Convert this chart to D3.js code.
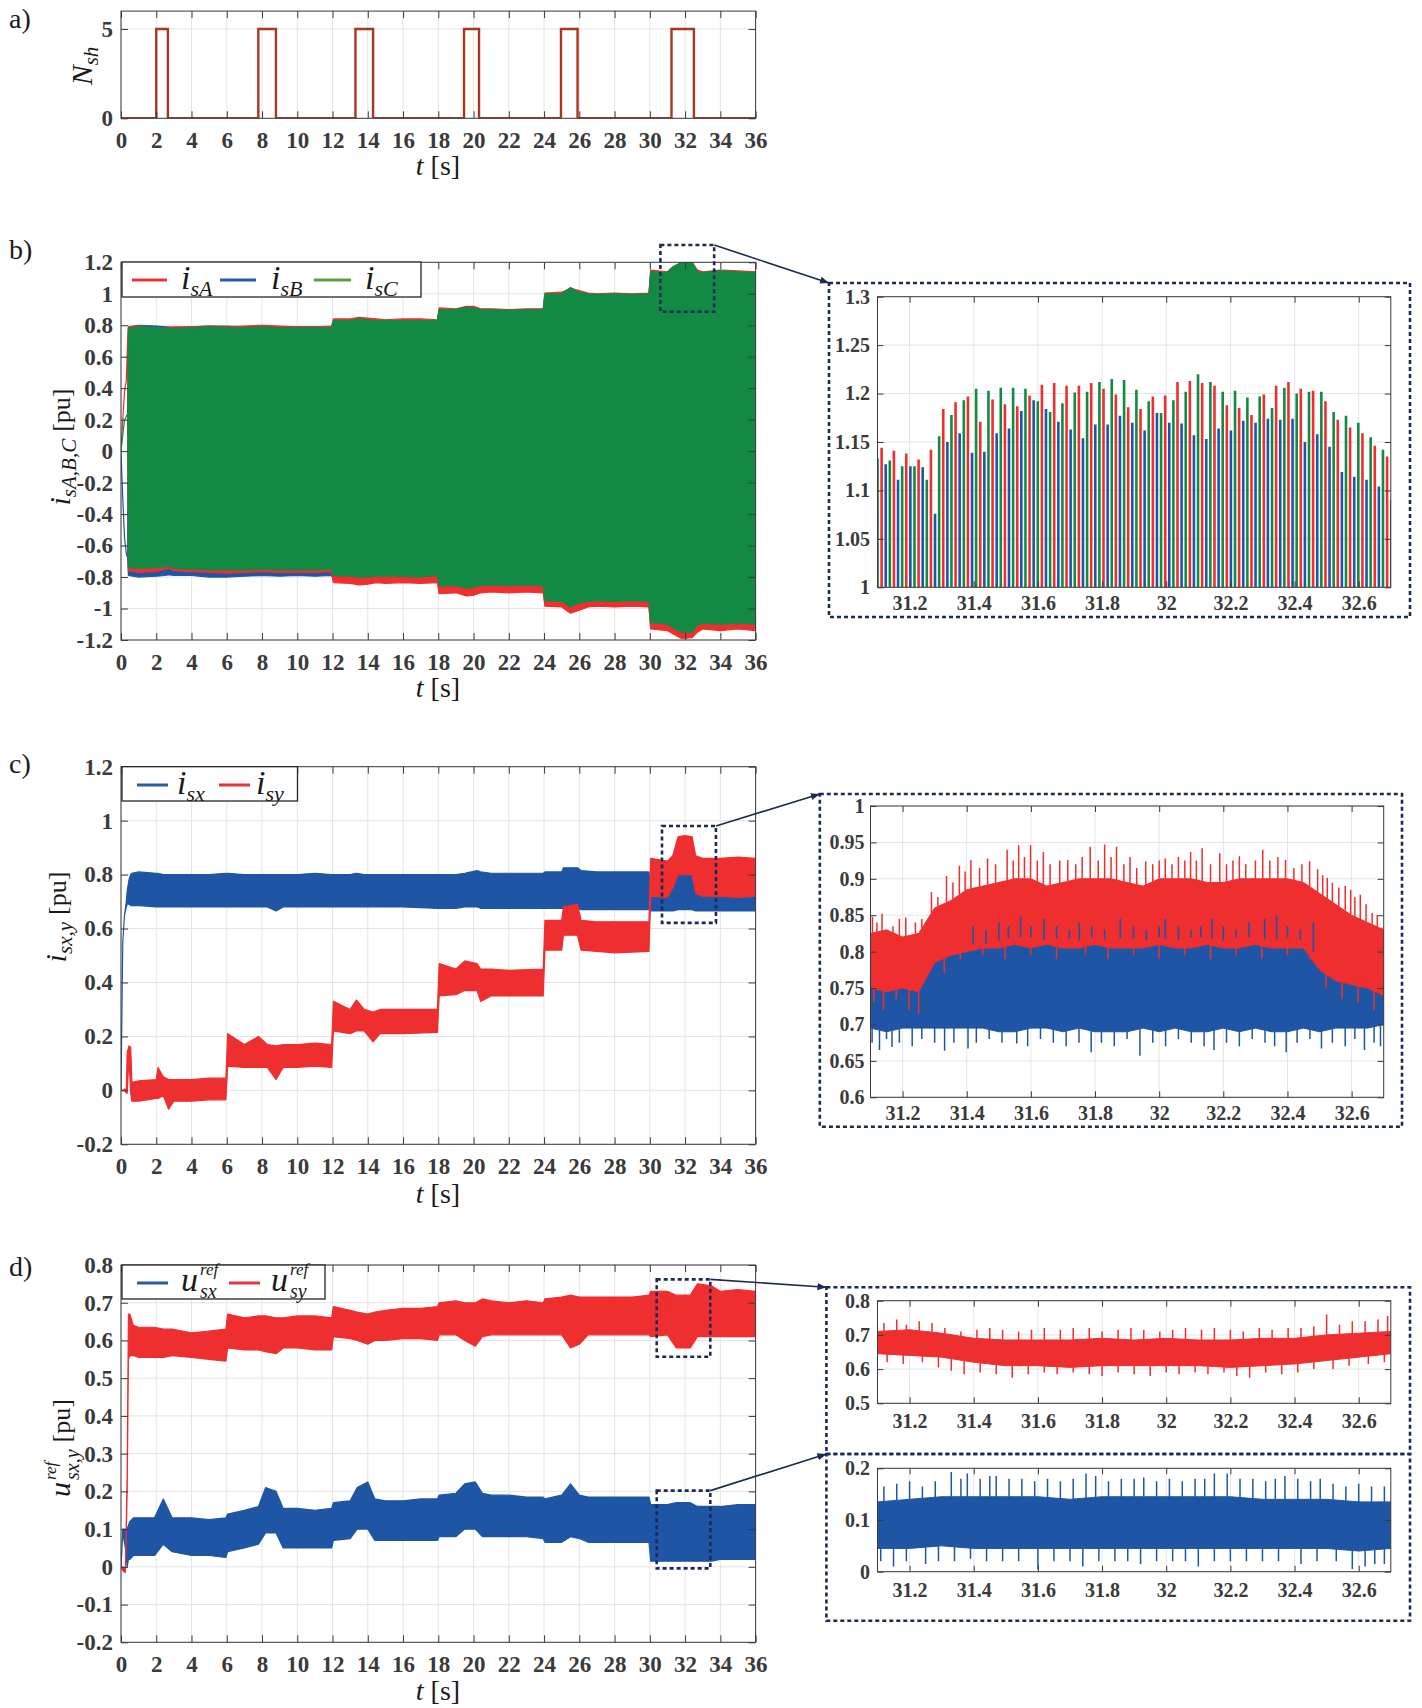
<!DOCTYPE html>
<html><head><meta charset="utf-8">
<script src="https://cdn.jsdelivr.net/npm/d3@7/dist/d3.min.js"></script>
<style>
html,body{margin:0;padding:0;background:#fff;}
svg{display:block;font-family:"Liberation Serif","Times New Roman",serif;}
</style></head><body>
<svg id="chart" width="1422" height="1708"></svg>
<script>
// ===================== DATA =====================
const timeTicks = [0,2,4,6,8,10,12,14,16,18,20,22,24,26,28,30,32,34,36];
const zoomTicks = [31.2,31.4,31.6,31.8,32,32.2,32.4,32.6];

// a) number of shaded modules
const nshPulseStart = [2.0, 7.79, 13.3, 19.46, 24.96, 31.23];
const nshPulseEnd   = [2.66, 8.79, 14.3, 20.31, 25.9, 32.5];
const nshHigh = 5;
const nshTicks = [0,5];

// b) phase currents (envelopes)
const isT = [0,0.1,0.2,0.3,0.38,0.42,1,2,2.5,2.7,3,4,5,6,7,8,9,10,11,11.95,12.05,13,13.5,14,14.5,15,16,17,17.95,18.05,19,19.6,20,20.4,21,22,23,23.95,24.05,25,25.5,26,26.5,27,28,29,29.95,30.05,31,31.3,31.8,32.4,32.7,33,34,35,36];
const isA_hi = [0,0.2,0.38,0.45,0.72,0.79, 0.795,0.78,0.78,0.785,0.79,0.79,0.795,0.79,0.795,0.80,0.795,0.79,0.79,0.795, 0.84,0.84,0.85,0.845,0.84,0.835,0.84,0.84,0.835, 0.91,0.905,0.92,0.92,0.905,0.905,0.90,0.905,0.905, 1.005,1.01,1.035,1.02,1.005,1.0,1.005,1.0,1.005, 1.15,1.14,1.17,1.2,1.2,1.15,1.14,1.15,1.145,1.14];
const isA_lo = [0,0.2,0.38,0.45,0.72,-0.76, -0.77,-0.765,-0.75,-0.745,-0.76,-0.765,-0.77,-0.775,-0.77,-0.765,-0.77,-0.77,-0.77,-0.765, -0.835,-0.84,-0.85,-0.845,-0.835,-0.84,-0.835,-0.84,-0.835, -0.905,-0.90,-0.92,-0.915,-0.90,-0.895,-0.90,-0.895,-0.90, -0.985,-0.99,-1.03,-1.01,-0.99,-0.985,-0.99,-0.985,-0.99, -1.13,-1.14,-1.16,-1.19,-1.185,-1.15,-1.13,-1.14,-1.13,-1.14];
const isB_hi = [0,-0.3,-0.55,-0.65,-0.68,0.79, 0.80,0.795,0.79,0.79,0.785,0.79,0.795,0.795,0.79,0.79,0.79,0.79,0.79,0.79, 0.83,0.835,0.84,0.835,0.83,0.83,0.83,0.83,0.83, 0.895,0.895,0.91,0.905,0.895,0.895,0.895,0.895,0.895, 0.99,0.995,1.02,1.0,0.995,0.99,0.99,0.99,0.99, 1.13,1.13,1.15,1.18,1.18,1.135,1.13,1.14,1.135,1.13];
const isB_lo = [0,-0.3,-0.55,-0.65,-0.68,-0.79, -0.80,-0.795,-0.79,-0.785,-0.79,-0.79,-0.80,-0.80,-0.795,-0.79,-0.795,-0.79,-0.795,-0.79, -0.82,-0.825,-0.83,-0.83,-0.825,-0.825,-0.825,-0.83,-0.825, -0.88,-0.885,-0.90,-0.90,-0.89,-0.885,-0.885,-0.885,-0.885, -0.97,-0.975,-1.0,-0.985,-0.975,-0.97,-0.975,-0.97,-0.975, -1.12,-1.125,-1.14,-1.17,-1.17,-1.13,-1.125,-1.13,-1.125,-1.13];
const isC_hi = [0,0.1,0.2,0.22,0.24,0.78, 0.79,0.785,0.78,0.78,0.78,0.785,0.79,0.785,0.785,0.79,0.785,0.785,0.785,0.785, 0.83,0.83,0.84,0.835,0.83,0.83,0.83,0.83,0.83, 0.90,0.90,0.915,0.91,0.90,0.90,0.895,0.90,0.90, 1.0,1.0,1.04,1.01,1.0,0.995,1.0,0.995,1.0, 1.14,1.135,1.17,1.2,1.2,1.14,1.135,1.145,1.14,1.135];
const isC_lo = [0,0.1,0.2,0.22,0.24,-0.74, -0.745,-0.74,-0.735,-0.73,-0.745,-0.75,-0.755,-0.755,-0.755,-0.75,-0.755,-0.755,-0.755,-0.75, -0.79,-0.795,-0.80,-0.80,-0.795,-0.795,-0.795,-0.80,-0.79, -0.855,-0.855,-0.87,-0.865,-0.855,-0.85,-0.855,-0.85,-0.855, -0.95,-0.955,-0.99,-0.965,-0.955,-0.95,-0.955,-0.95,-0.955, -1.09,-1.10,-1.12,-1.15,-1.15,-1.105,-1.095,-1.10,-1.095,-1.10];
const isTicks = [-1.2,-1,-0.8,-0.6,-0.4,-0.2,0,0.2,0.4,0.6,0.8,1,1.2];

// b) zoom: peak values of each phase (spikes above 1.0)
const pkPeriod = 0.03843;
const pkStartC = 31.100, pkStartA = 31.1128, pkStartB = 31.1256;
const pkC = [1.133,1.131,1.125,1.125,1.111,1.156,1.178,1.193,1.205,1.203,1.206,1.206,1.205,1.192,1.181,1.190,1.201,1.202,1.212,1.215,1.214,1.204,1.192,1.180,1.193,1.202,1.220,1.212,1.202,1.203,1.196,1.197,1.185,1.206,1.200,1.202,1.202,1.181,1.177,1.170,1.155,1.142];
const pkA = [1.144,1.141,1.138,1.132,1.142,1.184,1.191,1.197,1.171,1.194,1.189,1.187,1.198,1.209,1.211,1.208,1.208,1.211,1.205,1.199,1.186,1.184,1.197,1.198,1.212,1.213,1.211,1.208,1.188,1.185,1.178,1.199,1.208,1.212,1.205,1.203,1.192,1.173,1.165,1.159,1.146,1.135];
const pkB = [1.127,1.111,1.125,1.124,1.076,1.150,1.159,1.139,1.140,1.159,1.164,1.182,1.193,1.184,1.171,1.163,1.154,1.168,1.168,1.177,1.170,1.162,1.180,1.170,1.169,1.157,1.153,1.164,1.162,1.172,1.170,1.174,1.173,1.174,1.150,1.158,1.145,1.119,1.114,1.111,1.104,1.090];
const zbTicks = [1,1.05,1.1,1.15,1.2,1.25,1.3];

// c) i_sx, i_sy
const cT = [0,0.1,0.2,0.3,0.35,0.45,0.55,0.62,1,2,2.1,2.4,2.7,3,4,5,5.95,6.05,7,7.8,8.3,8.8,9.2,10,11,11.95,12.05,13,13.35,13.8,14.3,14.7,16,17.95,18.05,19,19.5,20.2,20.4,21,22,23.95,24.05,25,25.1,25.9,26.1,27,28,29.95,30.05,31,31.3,31.6,32.0,32.4,32.6,33,34,35,36];
const isx_lo = [0,0.55,0.65,0.68,0.69,0.69,0.685,0.685, 0.685,0.68,0.68,0.68,0.68,0.68,0.68,0.68,0.68, 0.68,0.68,0.68,0.68,0.665,0.68,0.68,0.68,0.68, 0.68,0.68,0.68,0.68,0.68,0.68,0.68,0.675, 0.675,0.675,0.68,0.68,0.675,0.675,0.675,0.675, 0.675,0.675,0.675,0.675,0.67,0.67,0.67,0.67, 0.665,0.665,0.665,0.67,0.67,0.67,0.665,0.665,0.665,0.665,0.665];
const isx_hi = [0,0.55,0.65,0.70,0.74,0.78,0.80,0.805, 0.81,0.805,0.805,0.80,0.80,0.80,0.80,0.80,0.805, 0.805,0.80,0.80,0.80,0.80,0.80,0.80,0.805,0.80, 0.80,0.80,0.805,0.80,0.80,0.80,0.80,0.80, 0.80,0.80,0.805,0.815,0.81,0.805,0.805,0.805, 0.81,0.81,0.825,0.825,0.815,0.81,0.81,0.81, 0.73,0.73,0.75,0.80,0.80,0.80,0.75,0.72,0.72,0.725,0.725];
const isy_lo = [0,0,0,-0.01,-0.01,0.12,-0.01,-0.04, -0.04,-0.03,-0.03,-0.02,-0.07,-0.04,-0.04,-0.035,-0.035, 0.09,0.085,0.085,0.085,0.04,0.085,0.085,0.09,0.085, 0.22,0.21,0.22,0.22,0.18,0.21,0.21,0.215, 0.35,0.355,0.37,0.37,0.33,0.35,0.35,0.35, 0.52,0.52,0.575,0.575,0.52,0.515,0.51,0.515, 0.72,0.715,0.75,0.80,0.80,0.80,0.73,0.72,0.72,0.715,0.72];
const isy_hi = [0,0,0.005,0,0.14,0.165,0.16,0.03, 0.035,0.04,0.085,0.05,0.04,0.04,0.04,0.045,0.045, 0.21,0.17,0.2,0.17,0.165,0.17,0.17,0.175,0.17, 0.33,0.30,0.335,0.30,0.29,0.30,0.30,0.30, 0.47,0.45,0.48,0.47,0.45,0.45,0.445,0.45, 0.63,0.63,0.68,0.69,0.63,0.625,0.625,0.625, 0.86,0.85,0.87,0.94,0.945,0.94,0.87,0.86,0.86,0.865,0.86];
const cTicks = [-0.2,0,0.2,0.4,0.6,0.8,1,1.2];

// c) zoom
const zcT = [31.10,31.15,31.20,31.25,31.30,31.35,31.40,31.45,31.50,31.55,31.60,31.65,31.70,31.75,31.80,31.85,31.90,31.95,32.00,32.05,32.10,32.15,32.20,32.25,32.30,32.35,32.40,32.45,32.50,32.55,32.60,32.65,32.70];
const zsy_hi = [0.825,0.83,0.82,0.825,0.86,0.87,0.885,0.89,0.895,0.9,0.9,0.89,0.895,0.9,0.9,0.9,0.895,0.89,0.9,0.9,0.9,0.895,0.895,0.9,0.9,0.9,0.9,0.895,0.88,0.865,0.85,0.84,0.83];
const zsy_lo = [0.75,0.745,0.75,0.745,0.785,0.795,0.8,0.805,0.805,0.81,0.805,0.81,0.805,0.805,0.81,0.805,0.805,0.805,0.81,0.805,0.805,0.81,0.805,0.805,0.81,0.805,0.805,0.805,0.775,0.76,0.755,0.75,0.74];
const zsx_hi = [0.77,0.765,0.77,0.765,0.79,0.80,0.81,0.81,0.815,0.82,0.82,0.815,0.82,0.815,0.82,0.815,0.82,0.815,0.82,0.815,0.82,0.82,0.815,0.82,0.82,0.815,0.82,0.815,0.79,0.78,0.775,0.77,0.765];
const zsx_lo = [0.695,0.69,0.695,0.695,0.695,0.695,0.695,0.695,0.69,0.69,0.695,0.695,0.69,0.695,0.69,0.69,0.69,0.695,0.69,0.695,0.69,0.69,0.695,0.69,0.695,0.69,0.69,0.695,0.69,0.695,0.695,0.695,0.70];
const zsyPeakT = [31.106,31.12,31.136,31.17,31.19,31.21,31.24,31.26,31.29,31.31,31.337,31.357,31.377,31.395,31.413,31.44,31.465,31.49,31.526,31.545,31.562,31.58,31.599,31.62,31.639,31.66,31.69,31.715,31.74,31.76,31.785,31.81,31.83,31.85,31.867,31.89,31.909,31.93,31.958,31.98,32.0,32.019,32.04,32.06,32.08,32.098,32.116,32.134,32.16,32.189,32.21,32.23,32.25,32.27,32.3,32.323,32.345,32.37,32.394,32.42,32.445,32.469,32.494,32.51,32.524,32.54,32.56,32.58,32.597,32.61,32.627,32.645,32.664,32.68,32.694];
const zsyPeakV = [0.848,0.84,0.852,0.835,0.845,0.847,0.84,0.845,0.882,0.875,0.904,0.895,0.918,0.91,0.926,0.915,0.928,0.92,0.94,0.925,0.946,0.93,0.946,0.925,0.937,0.92,0.925,0.926,0.92,0.93,0.944,0.925,0.947,0.93,0.944,0.92,0.93,0.915,0.924,0.92,0.925,0.928,0.92,0.93,0.925,0.937,0.925,0.942,0.92,0.935,0.92,0.925,0.931,0.92,0.925,0.94,0.925,0.93,0.926,0.915,0.92,0.924,0.913,0.905,0.901,0.895,0.888,0.89,0.885,0.875,0.878,0.865,0.853,0.85,0.833];
const zsyDipT = [31.11,31.14,31.18,31.22,31.25,31.33,31.38,31.45,31.52,31.6,31.68,31.77,31.84,31.92,32.0,32.08,32.16,32.24,32.32,32.4,32.47,32.52,32.57,32.62,32.67];
const zsyDipV = [0.73,0.72,0.735,0.72,0.715,0.77,0.79,0.795,0.79,0.795,0.79,0.795,0.79,0.795,0.79,0.795,0.79,0.795,0.79,0.795,0.79,0.75,0.735,0.73,0.72];
const zsxDipT = [31.105,31.128,31.15,31.167,31.19,31.23,31.26,31.3,31.331,31.36,31.404,31.43,31.47,31.51,31.556,31.59,31.63,31.67,31.71,31.75,31.788,31.82,31.86,31.9,31.94,31.98,32.02,32.06,32.1,32.14,32.171,32.21,32.25,32.29,32.33,32.36,32.396,32.43,32.47,32.506,32.54,32.58,32.61,32.64,32.67,32.69];
const zsxDipV = [0.675,0.665,0.68,0.669,0.675,0.67,0.68,0.675,0.664,0.675,0.667,0.675,0.68,0.675,0.674,0.67,0.68,0.675,0.67,0.675,0.662,0.675,0.67,0.68,0.657,0.675,0.67,0.68,0.675,0.67,0.665,0.675,0.67,0.68,0.675,0.67,0.662,0.675,0.68,0.667,0.675,0.67,0.68,0.665,0.675,0.67];
const zsxUpT = [31.42,31.46,31.5,31.53,31.568,31.6,31.641,31.68,31.72,31.751,31.79,31.83,31.879,31.92,31.96,32.0,32.019,32.06,32.1,32.13,32.165,32.2,32.24,32.28,32.329,32.366,32.4,32.44,32.481];
const zsxUpV = [0.835,0.83,0.84,0.835,0.848,0.835,0.845,0.835,0.83,0.84,0.835,0.83,0.845,0.835,0.83,0.835,0.845,0.835,0.83,0.835,0.845,0.835,0.83,0.84,0.845,0.85,0.835,0.83,0.84];
const zcTicks = [0.6,0.65,0.7,0.75,0.8,0.85,0.9,0.95,1];

// d) voltage references
const dT = [0,0.1,0.25,0.35,0.42,0.5,0.7,1,1.9,2.4,2.9,4,5,5.95,6.05,7,7.8,8.2,8.8,9.2,10,11,11.95,12.05,13,13.4,14,14.4,15,16,17,17.95,18.05,19,19.5,20.1,20.5,21,22,23,23.95,24.05,25,25.5,26,26.5,27,28,29,29.95,30.05,31,31.5,32.3,32.7,33.5,34,35,36];
const ux_lo = [0,0.09,0.05,0.0,0.02,0.02,0.03, 0.03,0.03,0.06,0.04,0.03,0.03,0.025, 0.04,0.05,0.06,0.09,0.09,0.05,0.05,0.05,0.05, 0.07,0.075,0.10,0.10,0.07,0.07,0.07,0.07,0.07, 0.08,0.08,0.10,0.10,0.08,0.08,0.08,0.08,0.075, 0.065,0.065,0.08,0.075,0.065,0.065,0.065,0.065,0.065, 0.015,0.015,0.015,0.015,0.015,0.015,0.02,0.02,0.02];
const ux_hi = [0,0.10,0.10,0.10,0.11,0.12,0.13, 0.13,0.13,0.18,0.13,0.13,0.125,0.13, 0.14,0.15,0.16,0.21,0.20,0.155,0.155,0.15,0.155, 0.17,0.175,0.21,0.225,0.18,0.175,0.175,0.18,0.18, 0.19,0.195,0.22,0.225,0.195,0.19,0.19,0.185,0.185, 0.18,0.19,0.22,0.19,0.185,0.185,0.185,0.185,0.185, 0.165,0.165,0.17,0.17,0.16,0.16,0.16,0.165,0.165];
const uy_lo = [0,-0.01,-0.015,0.2,0.55,0.56,0.56, 0.555,0.555,0.555,0.56,0.555,0.55,0.545, 0.58,0.575,0.575,0.57,0.565,0.58,0.58,0.575,0.575, 0.61,0.605,0.60,0.59,0.60,0.60,0.605,0.605,0.60, 0.615,0.615,0.60,0.585,0.61,0.615,0.615,0.615,0.615, 0.615,0.615,0.58,0.59,0.615,0.615,0.615,0.615,0.615, 0.61,0.615,0.58,0.58,0.61,0.61,0.61,0.61,0.61];
const uy_hi = [0,0.0,-0.005,0.25,0.67,0.67,0.64, 0.635,0.635,0.63,0.63,0.62,0.625,0.63, 0.67,0.66,0.665,0.665,0.66,0.66,0.665,0.665,0.66, 0.69,0.68,0.675,0.67,0.675,0.68,0.685,0.685,0.69, 0.70,0.705,0.70,0.70,0.71,0.705,0.70,0.705,0.70, 0.71,0.715,0.72,0.715,0.715,0.715,0.715,0.715,0.72, 0.73,0.73,0.72,0.72,0.75,0.745,0.73,0.735,0.73];
const dTicks = [-0.2,-0.1,0,0.1,0.2,0.3,0.4,0.5,0.6,0.7,0.8];

// d) zooms
const zdT = [31.1,31.2,31.3,31.4,31.5,31.6,31.7,31.8,31.9,32.0,32.1,32.2,32.3,32.4,32.5,32.6,32.7];
const zuy_hi = [0.71,0.715,0.705,0.69,0.685,0.685,0.685,0.69,0.685,0.69,0.685,0.685,0.69,0.69,0.70,0.705,0.71];
const zuy_lo = [0.645,0.64,0.635,0.62,0.61,0.61,0.605,0.61,0.61,0.61,0.61,0.605,0.61,0.615,0.625,0.635,0.645];
const zuyUpT = [31.12,31.16,31.19,31.23,31.27,31.31,31.36,31.41,31.45,31.49,31.54,31.58,31.62,31.67,31.71,31.76,31.8,31.85,31.89,31.93,31.98,32.02,32.06,32.11,32.15,32.2,32.24,32.29,32.33,32.38,32.42,32.46,32.5,32.54,32.58,32.62,32.66,32.69];
const zuyUpV = [0.735,0.745,0.73,0.74,0.735,0.72,0.71,0.715,0.72,0.715,0.71,0.715,0.72,0.715,0.72,0.72,0.71,0.715,0.72,0.715,0.71,0.715,0.72,0.715,0.72,0.715,0.71,0.72,0.715,0.72,0.72,0.725,0.76,0.73,0.74,0.74,0.745,0.755];
const zuyDnT = [31.13,31.18,31.24,31.29,31.33,31.37,31.42,31.47,31.52,31.57,31.62,31.66,31.71,31.76,31.8,31.85,31.9,31.95,32.0,32.04,32.09,32.13,32.18,32.22,32.26,32.31,32.36,32.41,32.46,32.52,32.57,32.63,32.68];
const zuyDnV = [0.62,0.615,0.62,0.605,0.595,0.585,0.59,0.585,0.575,0.585,0.59,0.585,0.59,0.585,0.58,0.59,0.585,0.58,0.59,0.585,0.59,0.585,0.59,0.58,0.575,0.59,0.585,0.59,0.6,0.6,0.61,0.615,0.62];
const zux_hi = [0.135,0.14,0.145,0.145,0.145,0.145,0.14,0.145,0.145,0.145,0.145,0.145,0.14,0.14,0.14,0.135,0.135];
const zux_lo = [0.045,0.045,0.05,0.045,0.045,0.045,0.045,0.045,0.045,0.045,0.045,0.045,0.045,0.045,0.045,0.04,0.045];
const zuxUpT = [31.12,31.16,31.2,31.24,31.28,31.33,31.36,31.38,31.42,31.45,31.47,31.51,31.55,31.59,31.63,31.67,31.71,31.75,31.78,31.82,31.86,31.9,31.93,31.97,32.01,32.05,32.09,32.12,32.15,32.19,32.23,32.27,32.31,32.34,32.37,32.41,32.45,32.48,32.52,32.56,32.6,32.64,32.68];
const zuxUpV = [0.165,0.17,0.175,0.165,0.175,0.193,0.18,0.19,0.18,0.185,0.185,0.18,0.18,0.175,0.18,0.175,0.18,0.19,0.185,0.175,0.18,0.18,0.182,0.175,0.18,0.175,0.18,0.18,0.19,0.19,0.18,0.18,0.175,0.18,0.185,0.18,0.175,0.18,0.17,0.165,0.17,0.165,0.165];
const zuxDnT = [31.11,31.15,31.19,31.25,31.29,31.34,31.39,31.44,31.49,31.54,31.6,31.65,31.7,31.74,31.79,31.84,31.88,31.92,31.97,32.02,32.06,32.1,32.15,32.2,32.25,32.3,32.35,32.42,32.47,32.53,32.58,32.62,32.65,32.68];
const zuxDnV = [0.02,0.01,0.02,0.015,0.02,0.02,0.025,0.02,0.02,0.02,0.005,0.02,0.02,0.01,0.02,0.02,0.02,0.015,0.02,0.02,0.02,0.01,0.02,0.02,0.02,0.02,0.02,0.015,0.02,0.02,0.005,0.01,0.015,0.015];
const zd1Ticks = [0.5,0.6,0.7,0.8];
const zd2Ticks = [0,0.1,0.2];

// zoom windows marked on the main plots [t0, t1, v0, v1]
const zoomBoxB  = [30.6, 33.65, 0.886, 1.31];
const zoomBoxC  = [30.69, 33.75, 0.621, 0.98];
const zoomBoxD1 = [30.39, 33.43, 0.557, 0.762];
const zoomBoxD2 = [30.39, 33.43, -0.004, 0.202];

// ===================== STYLE =====================
const RED = '#ee2e2f', BLUE = '#1f55a5', GREEN = '#128a44', BROWN = '#a8371f';
const LRED = '#e8343a', LBLUE = '#2a5ba8', LGREEN = '#5e9b3f';
const GRID = '#e4e4e4', AXC = '#3a3a3a', TICKC = '#3a3a3a', LABC = '#1a1a1a';
const NAVY = '#1c2b55';
const FONT = '"Liberation Serif","Times New Roman",serif';

const svg = d3.select('#chart');
const defs = svg.append('defs');
defs.append('marker').attr('id','arr').attr('viewBox','0 0 10 10').attr('refX',10).attr('refY',5)
  .attr('markerWidth',9).attr('markerHeight',9).attr('markerUnits','userSpaceOnUse').attr('orient','auto')
  .append('path').attr('d','M0,1 L10,5 L0,9 z').attr('fill', NAVY);

const fmtNum = v => String(+(+v).toFixed(3));
let clipN = 0;

function panel(o, drawData) {
  const x = d3.scaleLinear().domain(o.xDom).range([o.x0, o.x1]);
  const y = d3.scaleLinear().domain(o.yDom).range([o.y1, o.y0]);
  const g = svg.append('g');
  g.append('g').selectAll('line').data(o.xTicks).join('line')
    .attr('x1', d => x(d)).attr('x2', d => x(d)).attr('y1', o.y0).attr('y2', o.y1)
    .attr('stroke', GRID).attr('stroke-width', 1);
  g.append('g').selectAll('line').data(o.yTicks).join('line')
    .attr('y1', d => y(d)).attr('y2', d => y(d)).attr('x1', o.x0).attr('x2', o.x1)
    .attr('stroke', GRID).attr('stroke-width', 1);
  const id = 'clip' + (clipN++);
  defs.append('clipPath').attr('id', id).append('rect')
    .attr('x', o.x0).attr('y', o.y0).attr('width', o.x1 - o.x0).attr('height', o.y1 - o.y0);
  const dg = g.append('g').attr('clip-path', `url(#${id})`);
  drawData(dg, x, y);
  const tl = o.tl;
  g.append('g').attr('transform', `translate(0,${o.y1})`)
    .call(d3.axisBottom(x).tickValues(o.xTicks).tickFormat(fmtNum).tickSizeInner(-tl).tickSizeOuter(0).tickPadding(o.xPad));
  g.append('g').attr('transform', `translate(0,${o.y0})`)
    .call(d3.axisTop(x).tickValues(o.xTicks).tickFormat('').tickSizeInner(-tl).tickSizeOuter(0));
  g.append('g').attr('transform', `translate(${o.x0},0)`)
    .call(d3.axisLeft(y).tickValues(o.yTicks).tickFormat(fmtNum).tickSizeInner(-tl).tickSizeOuter(0).tickPadding(o.yPad));
  g.append('g').attr('transform', `translate(${o.x1},0)`)
    .call(d3.axisRight(y).tickValues(o.yTicks).tickFormat('').tickSizeInner(-tl).tickSizeOuter(0));
  g.selectAll('.domain').remove();
  g.selectAll('.tick line').attr('stroke', AXC).attr('stroke-width', 1);
  g.selectAll('.tick text').attr('font-family', FONT)
    .attr('font-size', o.fs).attr('font-weight', 'bold').attr('fill', TICKC);
  g.append('rect').attr('x', o.x0).attr('y', o.y0).attr('width', o.x1 - o.x0).attr('height', o.y1 - o.y0)
    .attr('fill', 'none').attr('stroke', AXC).attr('stroke-width', 1);
  return {x, y, g};
}

function band(dg, x, y, T, LO, HI, color, sw) {
  const pts = T.map((t, i) => ({t, lo: LO[i], hi: HI[i]}));
  dg.append('path').datum(pts)
    .attr('d', d3.area().x(d => x(d.t)).y0(d => y(d.lo)).y1(d => y(d.hi)))
    .attr('fill', color).attr('stroke', color).attr('stroke-width', sw || 1.2).attr('stroke-linejoin', 'round');
}
function spikes(dg, x, y, T, V, baseT, baseV, color, sw) {
  const base = d3.scaleLinear().domain(baseT).range(baseV).clamp(true);
  dg.append('g').selectAll('line').data(T.map((t, i) => [t, V[i]])).join('line')
    .attr('x1', d => x(d[0])).attr('x2', d => x(d[0]))
    .attr('y1', d => y(base(d[0]))).attr('y2', d => y(d[1]))
    .attr('stroke', color).attr('stroke-width', sw || 1.3);
}

// one <text> with positioned <tspan>s (subscripts / stacked superscripts)
function rich(parent, pieces, x, y, opts) {
  opts = opts || {};
  const grp = parent.append('g').attr('transform', `translate(${x},${y})` + (opts.rotate ? ` rotate(${opts.rotate})` : ''));
  const text = grp.append('text').attr('fill', opts.fill || LABC).attr('font-family', FONT);
  let cx = 0, lastStart = 0;
  pieces.forEach(p => {
    const sx = p.stack ? lastStart : cx + (p.dx || 0);
    const ts = text.append('tspan').attr('x', sx).attr('y', p.dy || 0)
      .attr('font-size', p.s).attr('font-style', p.it ? 'italic' : 'normal').text(p.t);
    const w = ts.node().getComputedTextLength();
    if (p.stack) cx = Math.max(cx, sx + w);
    else { lastStart = sx; cx = sx + w; }
  });
  if (opts.anchor === 'middle') text.attr('transform', `translate(${-cx / 2},0)`);
  return cx;
}

function legend(box, entries) {
  const g = svg.append('g');
  g.append('rect').attr('x', box[0]).attr('y', box[1]).attr('width', box[2]).attr('height', box[3])
    .attr('fill', '#fff').attr('stroke', '#262626').attr('stroke-width', 1.3);
  entries.forEach(e => {
    g.append('line').attr('x1', e.l0).attr('x2', e.l1).attr('y1', e.ly).attr('y2', e.ly)
      .attr('stroke', e.c).attr('stroke-width', 3);
    rich(g, e.p, e.tx, e.ty);
  });
}

function dashBox(x0, y0, x1, y1) {
  svg.append('rect').attr('x', x0).attr('y', y0).attr('width', x1 - x0).attr('height', y1 - y0)
    .attr('fill', 'none').attr('stroke', NAVY).attr('stroke-width', 2.6).attr('stroke-dasharray', '4,3');
}
function arrow(x0, y0, x1, y1) {
  svg.append('line').attr('x1', x0).attr('y1', y0).attr('x2', x1).attr('y2', y1)
    .attr('stroke', NAVY).attr('stroke-width', 1.6).attr('marker-end', 'url(#arr)');
}
function markZoom(P, box) {
  const xa = P.x(box[0]), xb = P.x(box[1]), ya = P.y(box[3]), yb = P.y(box[2]);
  dashBox(xa, ya, xb, yb);
  return [xb, ya];
}
function panelLetter(txt, y) {
  svg.append('text').attr('x', 9).attr('y', y).attr('font-size', 28).attr('fill', LABC).text(txt);
}
function tLabel(y) {
  rich(svg, [{t: 't', s: 28, it: 1}, {t: '[s]', s: 28, dx: 7}], 438, y, {anchor: 'middle'});
}

const MAIN = {x0: 121, x1: 755.6, xDom: [0, 36], xTicks: timeTicks, tl: 7, fs: 23, xPad: 13.8, yPad: 8};

// ===================== a) =====================
const nshPts = [[0, 0]];
nshPulseStart.forEach((s, i) => { nshPts.push([s, 0], [s, nshHigh], [nshPulseEnd[i], nshHigh], [nshPulseEnd[i], 0]); });
nshPts.push([36, 0]);
panel(Object.assign({}, MAIN, {y0: 11.1, y1: 118.3, yDom: [0, 6], yTicks: nshTicks}), (dg, x, y) => {
  dg.append('path').datum(nshPts).attr('d', d3.line().x(d => x(d[0])).y(d => y(d[1])))
    .attr('fill', 'none').attr('stroke', BROWN).attr('stroke-width', 2.4);
});
panelLetter('a)', 28);
rich(svg, [{t: 'N', s: 30, it: 1}, {t: 'sh', s: 21, it: 1, dy: 6}], 92, 66, {anchor: 'middle', rotate: -90});
tLabel(175);

// ===================== b) =====================
const PB = panel(Object.assign({}, MAIN, {y0: 262.3, y1: 640, yDom: [-1.2, 1.2], yTicks: isTicks}), (dg, x, y) => {
  band(dg, x, y, isT, isB_lo, isB_hi, BLUE);
  band(dg, x, y, isT, isA_lo, isA_hi, RED);
  band(dg, x, y, isT, isC_lo, isC_hi, GREEN);
});
panelLetter('b)', 259);
rich(svg, [{t: 'i', s: 30, it: 1}, {t: 'sA,B,C', s: 21, it: 1, dy: 6}, {t: '[pu]', s: 26, dx: 7}], 70, 447, {anchor: 'middle', rotate: -90});
tLabel(697);
legend([122, 262, 299, 35], [
  {c: LRED, l0: 132, l1: 167, ly: 280, tx: 181, ty: 289, p: [{t: 'i', s: 34, it: 1}, {t: 'sA', s: 22, it: 1, dy: 7}]},
  {c: LBLUE, l0: 220, l1: 256, ly: 280, tx: 271, ty: 289, p: [{t: 'i', s: 34, it: 1}, {t: 'sB', s: 22, it: 1, dy: 7}]},
  {c: LGREEN, l0: 314, l1: 351, ly: 280, tx: 365, ty: 289, p: [{t: 'i', s: 34, it: 1}, {t: 'sC', s: 22, it: 1, dy: 7}]}
]);
let c0 = markZoom(PB, zoomBoxB);
dashBox(829, 283, 1410, 617);
arrow(c0[0], c0[1], 829, 283);

// inset b
panel({x0: 877.5, x1: 1390.8, y0: 296.7, y1: 587.3, xDom: [31.1, 32.7], yDom: [1, 1.3], xTicks: zoomTicks, yTicks: zbTicks, tl: 6, fs: 20, xPad: 8.3, yPad: 7.5}, (dg, x, y) => {
  const draw = (start, vals, color) => {
    dg.append('g').selectAll('line').data(vals.map((v, i) => [start + i * pkPeriod, v])).join('line')
      .attr('x1', d => x(d[0])).attr('x2', d => x(d[0])).attr('y1', y(1)).attr('y2', d => y(d[1]))
      .attr('stroke', color).attr('stroke-width', 2.6);
  };
  draw(pkStartA, pkA, RED);
  draw(pkStartB, pkB, BLUE);
  draw(pkStartC, pkC, GREEN);
});

// ===================== c) =====================
const PC = panel(Object.assign({}, MAIN, {y0: 766.7, y1: 1144.3, yDom: [-0.2, 1.2], yTicks: cTicks}), (dg, x, y) => {
  band(dg, x, y, cT, isx_lo, isx_hi, BLUE);
  band(dg, x, y, cT, isy_lo, isy_hi, RED);
});
panelLetter('c)', 773);
rich(svg, [{t: 'i', s: 30, it: 1}, {t: 'sx,y', s: 21, it: 1, dy: 6}, {t: '[pu]', s: 26, dx: 7}], 66, 917, {anchor: 'middle', rotate: -90});
tLabel(1203);
legend([122, 766.7, 175.5, 34.3], [
  {c: LBLUE, l0: 137, l1: 168, ly: 785, tx: 177, ty: 794, p: [{t: 'i', s: 34, it: 1}, {t: 'sx', s: 22, it: 1, dy: 7}]},
  {c: LRED, l0: 219, l1: 250, ly: 785, tx: 256, ty: 794, p: [{t: 'i', s: 34, it: 1}, {t: 'sy', s: 22, it: 1, dy: 7}]}
]);
c0 = markZoom(PC, zoomBoxC);
dashBox(819.8, 794, 1402, 1126.7);
arrow(c0[0], c0[1], 819.8, 794);

// inset c
panel({x0: 870.5, x1: 1383.7, y0: 806, y1: 1097.3, xDom: [31.1, 32.7], yDom: [0.6, 1], xTicks: zoomTicks, yTicks: zcTicks, tl: 6, fs: 20, xPad: 8.3, yPad: 6}, (dg, x, y) => {
  band(dg, x, y, zcT, zsx_lo, zsx_hi, BLUE, 1);
  spikes(dg, x, y, zsxDipT, zsxDipV, zcT, zsx_lo, BLUE, 1.5);
  band(dg, x, y, zcT, zsy_lo, zsy_hi, RED, 1);
  spikes(dg, x, y, zsyPeakT, zsyPeakV, zcT, zsy_hi, RED, 1.5);
  spikes(dg, x, y, zsyDipT, zsyDipV, zcT, zsy_lo, RED, 1.5);
  spikes(dg, x, y, zsxUpT, zsxUpV, zcT, zsx_hi, BLUE, 1.6);
});

// ===================== d) =====================
const PD = panel(Object.assign({}, MAIN, {y0: 1265, y1: 1642.3, yDom: [-0.2, 0.8], yTicks: dTicks}), (dg, x, y) => {
  band(dg, x, y, dT, ux_lo, ux_hi, BLUE);
  band(dg, x, y, dT, uy_lo, uy_hi, RED);
});
panelLetter('d)', 1276);
rich(svg, [{t: 'u', s: 30, it: 1}, {t: 'ref', s: 17, it: 1, dy: -14, dx: 2}, {t: 'sx,y', s: 20, it: 1, dy: 9, stack: 1}, {t: '[pu]', s: 26, dx: 7}], 70, 1448, {anchor: 'middle', rotate: -90});
tLabel(1700);
legend([122, 1265, 203, 34], [
  {c: LBLUE, l0: 137, l1: 168, ly: 1283, tx: 181, ty: 1291, p: [{t: 'u', s: 34, it: 1}, {t: 'ref', s: 17, it: 1, dy: -16, dx: 2}, {t: 'sx', s: 20, it: 1, dy: 7, stack: 1}]},
  {c: LRED, l0: 229, l1: 260, ly: 1283, tx: 271, ty: 1291, p: [{t: 'u', s: 34, it: 1}, {t: 'ref', s: 17, it: 1, dy: -16, dx: 2}, {t: 'sy', s: 20, it: 1, dy: 7, stack: 1}]}
]);
c0 = markZoom(PD, zoomBoxD1);
const c1 = markZoom(PD, zoomBoxD2);
dashBox(826.4, 1287.3, 1410, 1454);
dashBox(826.4, 1454, 1410, 1620.7);
arrow(c0[0], c0[1], 826.4, 1287.3);
arrow(c1[0], c1[1], 826.4, 1454);

// inset d1
panel({x0: 877.5, x1: 1390.8, y0: 1300.7, y1: 1403.3, xDom: [31.1, 32.7], yDom: [0.5, 0.8], xTicks: zoomTicks, yTicks: zd1Ticks, tl: 6, fs: 20, xPad: 11, yPad: 7.5}, (dg, x, y) => {
  band(dg, x, y, zdT, zuy_lo, zuy_hi, RED, 1);
  spikes(dg, x, y, zuyUpT, zuyUpV, zdT, zuy_hi, RED, 1.5);
  spikes(dg, x, y, zuyDnT, zuyDnV, zdT, zuy_lo, RED, 1.5);
});
// inset d2
panel({x0: 877.5, x1: 1390.8, y0: 1468.3, y1: 1571.7, xDom: [31.1, 32.7], yDom: [0, 0.2], xTicks: zoomTicks, yTicks: zd2Ticks, tl: 6, fs: 20, xPad: 11, yPad: 7.5}, (dg, x, y) => {
  band(dg, x, y, zdT, zux_lo, zux_hi, BLUE, 1);
  spikes(dg, x, y, zuxUpT, zuxUpV, zdT, zux_hi, BLUE, 1.5);
  spikes(dg, x, y, zuxDnT, zuxDnV, zdT, zux_lo, BLUE, 1.5);
});
</script>
</body></html>
